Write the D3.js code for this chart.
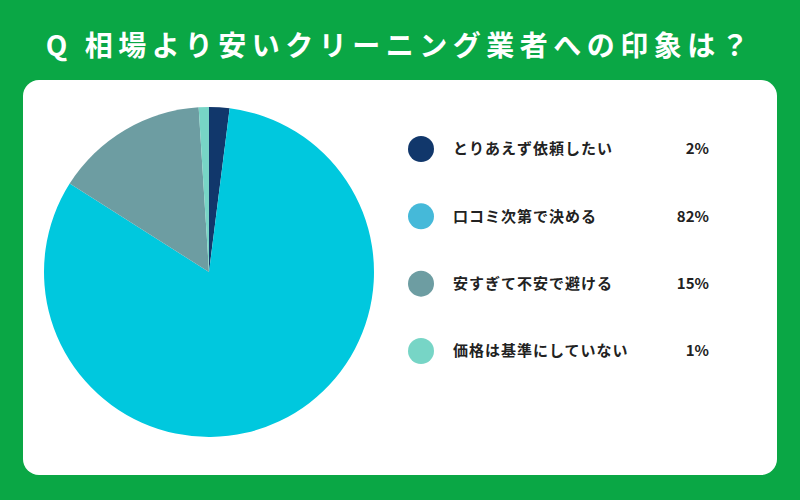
<html lang="ja">
<head>
  <meta charset="UTF-8"/>
  <title>相場より安いクリーニング業者への印象</title>
  <script src="https://d3js.org/d3.v7.min.js"></script>
  <style>
    body { margin: 0; background: #0aa745; }
    svg { display: block; font-family: "Noto Sans CJK JP", "Noto Sans", sans-serif; }
  </style>
</head>
<body>
  <svg width="800" height="500"></svg>

  <script>
  const title = 'Q 相場より安いクリーニング業者への印象は？'
  const labels = ['とりあえず依頼したい', '口コミ次第で決める', '安すぎて不安で避ける', '価格は基準にしていない']
  const values = [2, 82, 15, 1]
  const pieColors = ['#11376b', '#00c8de', '#6d9da2', '#77d5c6']
  const legendColors = ['#11376b', '#45b9d9', '#6d9da2', '#77d5c6']

  const svg = d3.select('svg')

  svg.append('rect')
    .attr('width', 800)
    .attr('height', 500)
    .attr('fill', '#0aa745')

  svg.append('text')
    .attr('x', 400)
    .attr('y', 56)
    .attr('text-anchor', 'middle')
    .attr('fill', '#ffffff')
    .attr('font-size', 28)
    .attr('font-weight', 'bold')
    .attr('letter-spacing', 5.5)
    .text(title)

  // white card
  svg.append('rect')
    .attr('x', 23)
    .attr('y', 80)
    .attr('width', 754)
    .attr('height', 395)
    .attr('rx', 16)
    .attr('fill', '#ffffff')

  const data = labels.map((l, i) => ({ label: l, value: values[i], pieColor: pieColors[i], legendColor: legendColors[i] }))

  const pie = d3.pie()
    .sort(null)
    .value((d) => d.value)

  const arc = d3.arc()
    .innerRadius(0)
    .outerRadius(165)

  const chart = svg.append('g')
    .attr('transform', 'translate(209, 272)')

  chart.selectAll('path')
    .data(pie(data))
    .enter()
    .append('path')
    .attr('d', arc)
    .attr('fill', (d) => d.data.pieColor)

  const y = d3.scalePoint()
    .domain(labels)
    .range([149, 351])

  const legend = svg.selectAll('.legend')
    .data(data)
    .enter()
    .append('g')
    .attr('class', 'legend')
    .attr('transform', (d) => `translate(0, ${y(d.label)})`)

  legend.append('circle')
    .attr('cx', 421)
    .attr('r', 13)
    .attr('fill', (d) => d.legendColor)

  legend.append('text')
    .attr('x', 453)
    .attr('dy', '0.36em')
    .attr('font-size', 15)
    .attr('font-weight', 'bold')
    .attr('letter-spacing', 1)
    .attr('fill', '#222222')
    .text((d) => d.label)

  legend.append('text')
    .attr('x', 709)
    .attr('dy', '0.36em')
    .attr('text-anchor', 'end')
    .attr('font-size', 15)
    .attr('font-weight', 'bold')
    .attr('fill', '#222222')
    .text((d) => `${d.value}%`)
  </script>
</body>
</html>
